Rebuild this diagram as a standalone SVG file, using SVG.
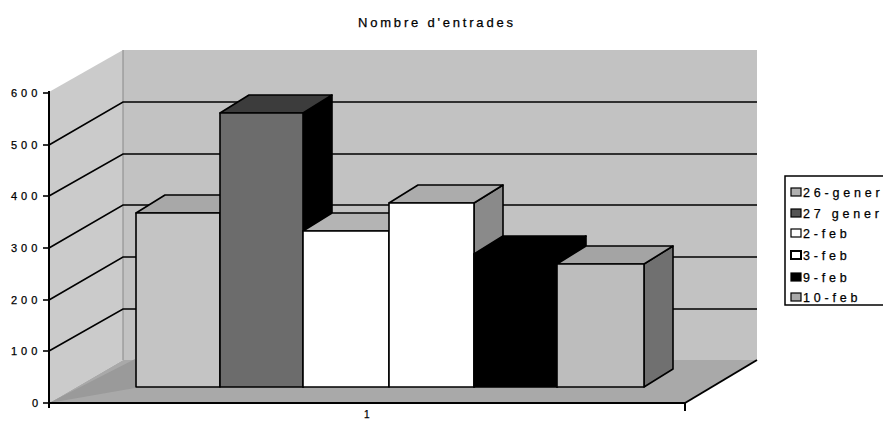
<svg xmlns="http://www.w3.org/2000/svg" width="883" height="421" viewBox="0 0 883 421">
<defs>
<style>
.t{font-family:"Liberation Sans",Arial,sans-serif;fill:#000;stroke:#000;stroke-width:0.25}
.ax{font-size:11px;letter-spacing:4px}
.lg{font-size:12.5px;letter-spacing:3.8px}
.grid{stroke:#000;stroke-width:1.6;fill:none}
.edge{stroke:#000;stroke-width:2;fill:none}
.f{stroke:#000;stroke-width:1.6;stroke-linejoin:round}
.sw{stroke:#000;stroke-width:1.2}
</style>
</defs>
<rect width="883" height="421" fill="#fff"/>
<g id="title"><text class="t" x="358" y="27" font-size="13" letter-spacing="2.8">Nombre d'entrades</text></g>
<g id="walls">
<rect x="123" y="50" width="634" height="310" fill="#c2c2c2"/>
<polygon points="49,92 123,50 123,360 49,403" fill="#cbcbcb"/>
<polygon points="49,403 123,360 757,360 685,403" fill="#a9a9a9"/>
<polygon points="49,403 135,359 135,388 49,403" fill="#9a9a9a"/>
<line x1="123" y1="50" x2="123" y2="360" stroke="#888" stroke-width="1"/>
</g>
<g id="gridlines">
<polyline class="grid" points="49,145 123,102 757,102"/>
<polyline class="grid" points="49,196 123,154 757,154"/>
<polyline class="grid" points="49,248 123,205 757,205"/>
<polyline class="grid" points="49,300 123,257 757,257"/>
<polyline class="grid" points="49,351 123,309 757,309"/>
</g>
<g id="bar-26-gener">
<polygon class="f" points="136,213 165,195 249,195 220,213" fill="#a8a8a8"/>
<rect class="f" x="136" y="213" width="84" height="174" fill="#c4c4c4"/>
</g>
<g id="bar-27-gener">
<polygon class="f" points="303,113 332,95 332,369 303,387" fill="#000"/>
<polygon class="f" points="220,113 249,95 332,95 303,113" fill="#3c3c3c"/>
<rect class="f" x="220" y="113" width="83" height="274" fill="#6c6c6c"/>
</g>
<g id="bar-2-feb">
<polygon class="f" points="303,231 332,213 418,213 389,231" fill="#b4b4b4"/>
<rect class="f" x="303" y="231" width="86" height="156" fill="#fff"/>
</g>
<g id="bar-3-feb">
<polygon class="f" points="474,203 503,185 503,369 474,387" fill="#8a8a8a"/>
<polygon class="f" points="389,203 418,185 503,185 474,203" fill="#acacac"/>
<rect class="f" x="389" y="203" width="85" height="184" fill="#fff"/>
</g>
<g id="bar-9-feb">
<polygon class="f" points="557,254 586,236 586,369 557,387" fill="#000"/>
<polygon class="f" points="474,254 503,236 586,236 557,254" fill="#000"/>
<rect class="f" x="474" y="254" width="83" height="133" fill="#000"/>
</g>
<g id="bar-10-feb">
<polygon class="f" points="644,264 673,246 673,369 644,387" fill="#707070"/>
<polygon class="f" points="557,264 586,246 673,246 644,264" fill="#a4a4a4"/>
<rect class="f" x="557" y="264" width="87" height="123" fill="#bdbdbd"/>
</g>
<g id="axes">
<line class="edge" x1="49" y1="91" x2="49" y2="408"/>
<line class="edge" x1="48" y1="403" x2="686" y2="403"/>
<line class="edge" x1="685" y1="403" x2="757" y2="360"/>
<line class="edge" x1="685" y1="403" x2="685" y2="411"/>
<g stroke="#000" stroke-width="1.6">
<line x1="43" y1="93" x2="49" y2="93"/>
<line x1="43" y1="145" x2="49" y2="145"/>
<line x1="43" y1="196" x2="49" y2="196"/>
<line x1="43" y1="248" x2="49" y2="248"/>
<line x1="43" y1="300" x2="49" y2="300"/>
<line x1="43" y1="351" x2="49" y2="351"/>
<line x1="43" y1="403" x2="49" y2="403"/>
</g>
<text class="t ax" x="11" y="97">600</text>
<text class="t ax" x="11" y="149">500</text>
<text class="t ax" x="11" y="200">400</text>
<text class="t ax" x="11" y="252">300</text>
<text class="t ax" x="11" y="304">200</text>
<text class="t ax" x="11" y="355">100</text>
<text class="t ax" x="32" y="407">0</text>
<text class="t" x="364" y="418" font-size="10">1</text>
</g>
<g id="legend">
<rect x="785" y="176" width="110" height="129" fill="#fff" stroke="#000" stroke-width="1.5"/>
<rect class="sw" x="791" y="188" width="10" height="8" fill="#b0b0b0"/>
<text class="t lg" x="803" y="196.5">26-gener</text>
<rect class="sw" x="791" y="209" width="10" height="8" fill="#555"/>
<text class="t lg" x="803" y="217.5">27 gener</text>
<rect class="sw" x="791" y="229" width="10" height="8" fill="#fff"/>
<text class="t lg" x="803" y="238">2-feb</text>
<rect x="791" y="251" width="10" height="8" fill="#fff" stroke="#000" stroke-width="2"/>
<text class="t lg" x="803" y="259.5">3-feb</text>
<rect class="sw" x="791" y="273" width="10" height="8" fill="#000"/>
<text class="t lg" x="803" y="281.5">9-feb</text>
<rect class="sw" x="791" y="293" width="10" height="8" fill="#a8a8a8"/>
<text class="t lg" x="803" y="301.5">10-feb</text>
</g>
</svg>
